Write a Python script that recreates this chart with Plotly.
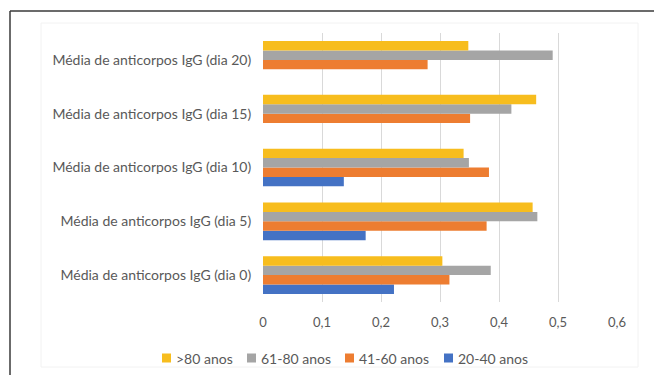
import plotly.graph_objects as go

# Mean IgG antibody levels per sampling day, by age group
categories = [
    "Média de anticorpos IgG (dia 0)",
    "Média de anticorpos IgG (dia 5)",
    "Média de anticorpos IgG (dia 10)",
    "Média de anticorpos IgG (dia 15)",
    "Média de anticorpos IgG (dia 20)",
]
age_20_40 = [0.222, 0.174, 0.137, None, None]
age_41_60 = [0.316, 0.379, 0.383, 0.351, 0.279]
age_61_80 = [0.386, 0.465, 0.349, 0.421, 0.491]
age_80_plus = [0.304, 0.457, 0.340, 0.463, 0.348]

series_names = ["20-40 anos", "41-60 anos", "61-80 anos", ">80 anos"]
series_values = [age_20_40, age_41_60, age_61_80, age_80_plus]
series_colors = ["#4472C4", "#ED7D31", "#A5A5A5", "#F7BD1E"]

x_ticks = [0, 0.1, 0.2, 0.3, 0.4, 0.5, 0.6]

TEXT = "#595959"
FONT = "Lato"

W, H = 654, 375
L, R, T, B = 263, 37, 33, 73
PW, PH = W - L - R, H - T - B


def px(x):
    return (x - L) / PW


def py(y):
    return (H - B - y) / PH


fig = go.Figure()
for name, vals, color in zip(series_names, series_values, series_colors):
    fig.add_trace(go.Bar(
        y=categories, x=vals, name=name, orientation="h",
        marker=dict(color=color, line=dict(width=0)),
        showlegend=False,
    ))

# Legend row under the axis: key square + label, oldest group first
legend_y = 358
legend_keys_x = [162, 247, 345, 444]     # left edge of each key square
shapes = []
annotations = []
for key_x, name, color in zip(legend_keys_x, series_names[::-1], series_colors[::-1]):
    shapes.append(dict(
        type="rect", xref="paper", yref="paper",
        x0=px(key_x), x1=px(key_x + 9),
        y0=py(legend_y - 4.5), y1=py(legend_y + 4.5),
        fillcolor=color, line=dict(width=0),
    ))
    annotations.append(dict(
        xref="paper", yref="paper", x=px(key_x + 12), y=py(legend_y),
        xanchor="left", yanchor="middle", text=name, showarrow=False,
        font=dict(family=FONT, size=14, color=TEXT),
    ))

# outer frame (runs off the right and bottom edges)
shapes += [
    dict(type="line", xref="paper", yref="paper",
         x0=px(10), x1=px(W + 5), y0=py(11), y1=py(11),
         line=dict(color="#3A3A3A", width=1.5)),
    dict(type="line", xref="paper", yref="paper",
         x0=px(10), x1=px(10), y0=py(11), y1=py(H + 5),
         line=dict(color="#3A3A3A", width=1.5)),
    # faint chart-area outline
    dict(type="rect", xref="paper", yref="paper",
         x0=px(41), x1=px(638), y0=py(23), y1=py(367),
         line=dict(color="#F2F2F2", width=1), layer="below"),
]

fig.update_layout(
    width=W, height=H,
    margin=dict(l=L, r=R, t=T, b=B, pad=0),
    paper_bgcolor="white", plot_bgcolor="white",
    barmode="group", bargap=0.30, bargroupgap=0,
    separators=",.",
    font=dict(family=FONT, size=13, color=TEXT),
    showlegend=False,
    xaxis=dict(
        range=[0, 0.6], tickvals=x_ticks, tickformat=".1~f",
        showgrid=True, gridcolor="#D9D9D9", gridwidth=1,
        zeroline=False, showline=False,
        ticks="outside", ticklen=8, tickcolor="rgba(0,0,0,0)",
        tickfont=dict(family=FONT, size=13, color=TEXT),
        fixedrange=True,
    ),
    yaxis=dict(
        showgrid=False, zeroline=False, showline=False,
        ticks="outside", ticklen=8, tickcolor="rgba(0,0,0,0)",
        tickfont=dict(family=FONT, size=14, color=TEXT),
        fixedrange=True,
    ),
    shapes=shapes,
    annotations=annotations,
)

fig.write_html("out.html")
